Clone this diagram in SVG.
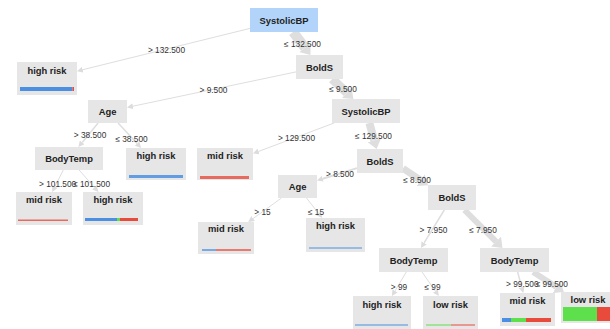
<svg xmlns="http://www.w3.org/2000/svg" width="610" height="329" viewBox="0 0 610 329">
<style>
.n{fill:#e6e6e6}
.r{fill:#b3d4fa}
.t{font-family:"Liberation Sans",Arial,sans-serif;font-size:9.4px;font-weight:bold;fill:#222;text-anchor:middle}
.e{fill:none;stroke:#dedede;stroke-linecap:butt}
.l{font-family:"Liberation Sans",Arial,sans-serif;font-size:8.3px;fill:#333;text-anchor:middle}
.b{fill:#4a8fe2}.g{fill:#5ee04c}.d{fill:#e84b3c}
</style>
<defs>
<marker id="a" markerUnits="userSpaceOnUse" markerWidth="6" markerHeight="6" refX="0" refY="3" orient="auto" viewBox="0 0 6 6"><path d="M0,0 L6,3 L0,6 z" fill="#dcdcdc"/></marker>
<marker id="A" markerUnits="userSpaceOnUse" markerWidth="9" markerHeight="14" refX="0" refY="7" orient="auto" viewBox="0 0 9 14"><path d="M0,0 L9,7 L0,14 z" fill="#dedede"/></marker>
</defs>
<g id="connectors">
<line class="e" x1="250" y1="28.4" x2="82.8" y2="69.7" stroke-width="1" marker-end="url(#a)"/>
<line class="e" x1="293.1" y1="32" x2="305" y2="47.8" stroke-width="10" marker-end="url(#A)"/>
<line class="e" x1="296" y1="71.9" x2="132.9" y2="106.2" stroke-width="1" marker-end="url(#a)"/>
<line class="e" x1="332.2" y1="79" x2="346.8" y2="92.8" stroke-width="9" marker-end="url(#A)"/>
<line class="e" x1="98.1" y1="123" x2="82.2" y2="142.4" stroke-width="1.5" marker-end="url(#a)"/>
<line class="e" x1="118.1" y1="123" x2="137.1" y2="143.6" stroke-width="1.5" marker-end="url(#a)"/>
<line class="e" x1="334.1" y1="123" x2="258.6" y2="151.4" stroke-width="1" marker-end="url(#a)"/>
<line class="e" x1="369.4" y1="123" x2="374.2" y2="140.3" stroke-width="8" marker-end="url(#A)"/>
<line class="e" x1="63.25" y1="170" x2="54.9" y2="186.6" stroke-width="1" marker-end="url(#a)"/>
<line class="e" x1="79.1" y1="170" x2="94.5" y2="187.5" stroke-width="1" marker-end="url(#a)"/>
<line class="e" x1="357" y1="168.1" x2="322.7" y2="178.7" stroke-width="2" marker-end="url(#a)"/>
<line class="e" x1="403" y1="168.3" x2="420.6" y2="180.2" stroke-width="7" marker-end="url(#A)"/>
<line class="e" x1="281.5" y1="198" x2="253.1" y2="218.5" stroke-width="1" marker-end="url(#a)"/>
<line class="e" x1="306.5" y1="198" x2="318.5" y2="213.3" stroke-width="1" marker-end="url(#a)"/>
<line class="e" x1="444.3" y1="210" x2="424.1" y2="242.9" stroke-width="1.5" marker-end="url(#a)"/>
<line class="e" x1="464.5" y1="210" x2="496.1" y2="241.6" stroke-width="6" marker-end="url(#A)"/>
<line class="e" x1="406.3" y1="272" x2="395" y2="290.9" stroke-width="1" marker-end="url(#a)"/>
<line class="e" x1="422" y1="272" x2="435.4" y2="291.1" stroke-width="1" marker-end="url(#a)"/>
<line class="e" x1="517.65" y1="272" x2="521.7" y2="287.2" stroke-width="1.5" marker-end="url(#a)"/>
<line class="e" x1="533.1" y1="272" x2="556.4" y2="287.1" stroke-width="6" marker-end="url(#A)"/>
</g>
<g id="edge-labels">
<text class="l" x="166.5" y="53">&gt; 132.500</text>
<text class="l" x="302.5" y="47">≤ 132.500</text>
<text class="l" x="213.5" y="93">&gt; 9.500</text>
<text class="l" x="343" y="92">≤ 9.500</text>
<text class="l" x="90" y="138">&gt; 38.500</text>
<text class="l" x="131.5" y="142">≤ 38.500</text>
<text class="l" x="296.5" y="141">&gt; 129.500</text>
<text class="l" x="373.5" y="139">≤ 129.500</text>
<text class="l" x="340" y="177">&gt; 8.500</text>
<text class="l" x="417" y="183">≤ 8.500</text>
<text class="l" x="262.5" y="215">&gt; 15</text>
<text class="l" x="316" y="215">≤ 15</text>
<text class="l" x="39" y="187" style="text-anchor:start">&gt; 101.500</text>
<text class="l" x="110" y="187" style="text-anchor:end">≤ 101.500</text>
<text class="l" x="433.5" y="233">&gt; 7.950</text>
<text class="l" x="483" y="233">≤ 7.950</text>
<text class="l" x="399" y="290">&gt; 99</text>
<text class="l" x="432.5" y="290">≤ 99</text>
<text class="l" x="506" y="287" style="text-anchor:start">&gt; 99.500</text>
<text class="l" x="568" y="287" style="text-anchor:end">≤ 99.500</text>
</g>
<g id="n0"><rect class="r" x="250" y="8" width="68" height="24"/><text class="t" x="284" y="23.5">SystolicBP</text></g>
<g id="n1"><rect class="n" x="17" y="62" width="60" height="33"/><text class="t" x="47" y="73.5">high risk</text><rect class="b" x="20" y="87" width="52.5" height="4"/><rect class="d" x="72.5" y="87" width="1.5" height="4"/></g>
<g id="n2"><rect class="n" x="296" y="55" width="47" height="24"/><text class="t" x="319.5" y="70.5">BoldS</text></g>
<g id="n3"><rect class="n" x="88" y="100" width="39" height="23"/><text class="t" x="107.5" y="115">Age</text></g>
<g id="n4"><rect class="n" x="332" y="99" width="68" height="24"/><text class="t" x="366" y="114.5">SystolicBP</text></g>
<g id="n5"><rect class="n" x="35" y="147" width="68" height="23"/><text class="t" x="69" y="162">BodyTemp</text></g>
<g id="n6"><rect class="n" x="126" y="148" width="60" height="32"/><text class="t" x="156" y="158.5">high risk</text><rect class="b" x="129" y="175" width="54" height="3" opacity="0.85"/></g>
<g id="n7"><rect class="n" x="197" y="148" width="56" height="32"/><text class="t" x="225" y="158.5">mid risk</text><rect class="d" x="200" y="176" width="49" height="3" opacity="0.8"/></g>
<g id="n8"><rect class="n" x="357" y="149" width="46" height="24"/><text class="t" x="380" y="164.5">BoldS</text></g>
<g id="n9"><rect class="n" x="16" y="192" width="56" height="33"/><text class="t" x="44" y="202.5">mid risk</text><rect class="d" x="18" y="219.5" width="50" height="1.5" opacity="0.8"/></g>
<g id="n10"><rect class="n" x="83" y="192" width="60" height="33"/><text class="t" x="113" y="202.5">high risk</text><rect class="b" x="85" y="218" width="32" height="3"/><rect class="g" x="117" y="218" width="3" height="3"/><rect class="d" x="120" y="218" width="18" height="3"/></g>
<g id="n11"><rect class="n" x="278" y="175" width="39" height="23"/><text class="t" x="297.5" y="190">Age</text></g>
<g id="n12"><rect class="n" x="428" y="185" width="48" height="25"/><text class="t" x="452" y="201">BoldS</text></g>
<g id="n13"><rect class="n" x="198" y="222" width="56" height="32"/><text class="t" x="226" y="231.5">mid risk</text><rect class="b" x="202" y="249" width="14" height="2" opacity="0.7"/><rect class="d" x="216" y="249" width="35" height="2" opacity="0.7"/></g>
<g id="n14"><rect class="n" x="306" y="218" width="59" height="34"/><text class="t" x="335.5" y="228.5">high risk</text><rect class="b" x="309" y="247" width="53" height="2" opacity="0.5"/></g>
<g id="n15"><rect class="n" x="379" y="248" width="69" height="24"/><text class="t" x="413.5" y="263.5">BodyTemp</text></g>
<g id="n16"><rect class="n" x="480" y="248" width="69" height="24"/><text class="t" x="514.5" y="263.5">BodyTemp</text></g>
<g id="n17"><rect class="n" x="353" y="296" width="58" height="34"/><text class="t" x="382" y="308">high risk</text><rect class="b" x="355" y="324" width="53" height="2" opacity="0.5"/></g>
<g id="n18"><rect class="n" x="423" y="296" width="55" height="34"/><text class="t" x="450.5" y="308">low risk</text><rect class="g" x="426" y="324" width="25" height="2" opacity="0.5"/><rect class="d" x="451" y="324" width="24" height="2" opacity="0.5"/></g>
<g id="n19"><rect class="n" x="500" y="293" width="55" height="33"/><text class="t" x="527.5" y="304">mid risk</text><rect class="b" x="502" y="318" width="9" height="4"/><rect class="g" x="511" y="318" width="15" height="4"/><rect class="d" x="526" y="318" width="25" height="4"/></g>
<g id="n20"><rect class="n" x="561" y="292" width="55" height="31"/><text class="t" x="588" y="302.5">low risk</text><rect class="g" x="563" y="307" width="34" height="14"/><rect class="d" x="597" y="307" width="16" height="14"/></g>
</svg>
